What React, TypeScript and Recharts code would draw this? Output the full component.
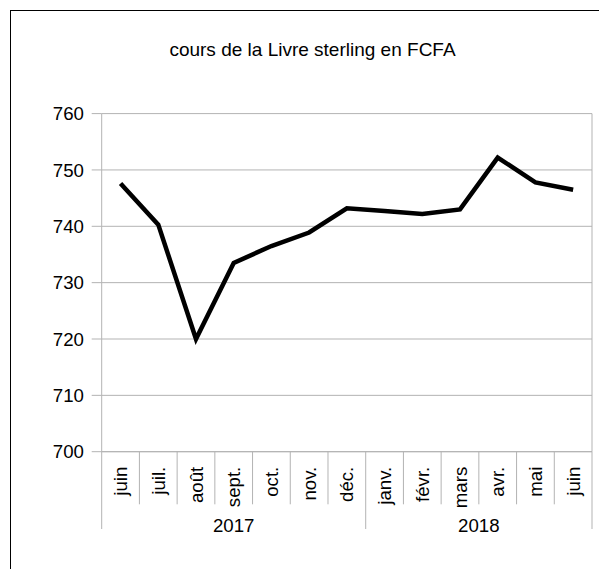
import React from 'react';
import { LineChart, Line, XAxis, YAxis, CartesianGrid } from 'recharts';

const months = ['juin', 'juil.', 'août', 'sept.', 'oct.', 'nov.', 'déc.', 'janv.', 'févr.', 'mars', 'avr.', 'mai', 'juin'];
const rates = [747.6, 740.3, 720.0, 733.5, 736.5, 738.9, 743.2, 742.7, 742.2, 743.0, 752.2, 747.8, 746.5];
const years = ['2017', '2018'];
const yearStarts = [0, 7];
const yTicks = [700, 710, 720, 730, 740, 750, 760];
const title = 'cours de la Livre sterling en FCFA';

const data = months.map((m, i) => ({ month: m, rate: rates[i] }));

const W = 599;
const H = 561;
const MARGIN = { top: 105.6, right: 15, left: 0, bottom: 0 };
const Y_W = 93.7;
const PLOT_W = W - MARGIN.left - MARGIN.right - Y_W;
const BAND = PLOT_W / months.length;
const FONT = '"Liberation Sans", Arial, sans-serif';
const FS = 18.67;
const GRID = '#b3b3b3';

const XTick = (props: any) => {
  const { x, y, index, payload } = props;
  const left = x - BAND / 2;
  const isGroupStart = yearStarts.includes(index);
  const isLast = index === months.length - 1;
  const gi = yearStarts.indexOf(index);
  let yearLabel = null;
  if (gi >= 0) {
    const end = gi + 1 < yearStarts.length ? yearStarts[gi + 1] : months.length;
    const span = end - index;
    yearLabel = (
      <text x={left + (span * BAND) / 2} y={y + 80} textAnchor="middle" fontFamily={FONT} fontSize={FS} fill="#000">
        {years[gi]}
      </text>
    );
  }
  return (
    <g>
      <line x1={left} x2={left} y1={y} y2={y + (isGroupStart ? 77.3 : 52.6)} stroke={GRID} strokeWidth={1} />
      {isLast && <line x1={x + BAND / 2} x2={x + BAND / 2} y1={y} y2={y + 77.3} stroke={GRID} strokeWidth={1} />}
      <text
        x={x}
        y={y + 15}
        transform={`rotate(-90, ${x}, ${y + 15})`}
        textAnchor="end"
        dy="0.355em"
        fontFamily={FONT}
        fontSize={FS}
        fill="#000"
      >
        {payload.value}
      </text>
      {yearLabel}
    </g>
  );
};

export default function App() {
  return (
    <div style={{ position: 'relative', width: W, height: H }}>
      <div
        style={{
          position: 'absolute',
          left: 2,
          top: 2,
          width: 700,
          height: 700,
          borderLeft: '1px solid #000',
          borderTop: '1px solid #000',
          boxSizing: 'border-box',
        }}
      />
      <svg style={{ position: 'absolute', left: 0, top: 0 }} width={W} height={80}>
        <text x={304.5} y={48} textAnchor="middle" fontFamily={FONT} fontSize={19} fill="#000">
          {title}
        </text>
      </svg>
      <div style={{ position: 'absolute', left: 0, top: 0 }}>
        <LineChart width={W} height={H} data={data} margin={MARGIN}>
          <CartesianGrid
            stroke={GRID}
            strokeWidth={1}
            horizontal={true}
            vertical={true}
            verticalCoordinatesGenerator={(p: any) => [p.offset.left + p.offset.width]}
          />
          <XAxis
            dataKey="month"
            height={H - 443.7}
            interval={0}
            padding={{ left: BAND / 2, right: BAND / 2 }}
            tickLine={false}
            tickSize={0}
            tickMargin={0}
            axisLine={{ stroke: GRID }}
            tick={<XTick />}
          />
          <YAxis
            width={Y_W}
            domain={[700, 760]}
            ticks={yTicks}
            interval={0}
            tickSize={10}
            tickMargin={7.7}
            axisLine={{ stroke: GRID }}
            tickLine={{ stroke: GRID }}
            tick={{ fill: '#000', fontSize: FS, fontFamily: FONT }}
          />
          <Line
            type="linear"
            dataKey="rate"
            stroke="#000"
            strokeWidth={4.5}
            dot={false}
            activeDot={false}
            isAnimationActive={false}
          />
        </LineChart>
      </div>
    </div>
  );
}
